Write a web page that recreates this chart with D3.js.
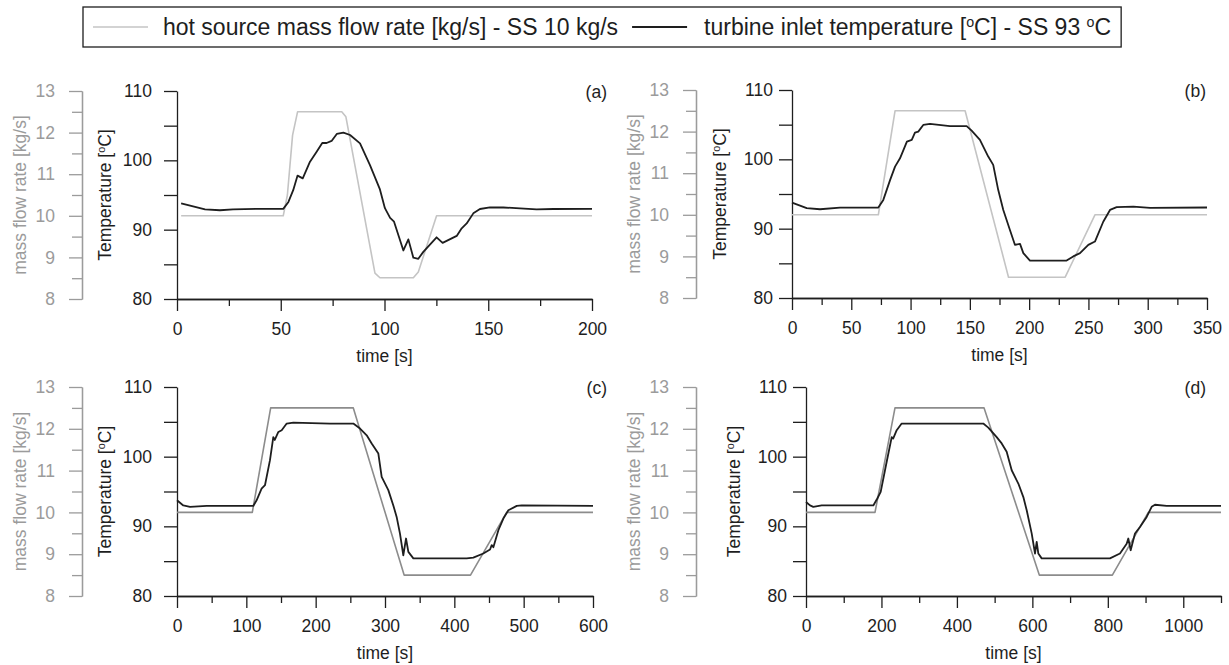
<!DOCTYPE html>
<html>
<head>
<meta charset="utf-8">
<script src="https://cdn.jsdelivr.net/npm/d3@7"></script>
<style>
  body { margin: 0; background: #fff; }
  svg text { font-family: "Liberation Sans", Arial, sans-serif; }
</style>
</head>
<body>
<svg id="chart" width="1229" height="665" font-family="Liberation Sans, Arial, sans-serif"></svg>
<script>
// ---- data ----
// (a)
const aTempT = [2, 13.5, 20.7, 27, 38.4, 51.2, 53.7, 56, 58.1, 60.6, 64.1, 67.3, 70, 72.1, 74.5, 77, 80.2, 83.4, 88.2, 93, 97.8, 100.2, 102.7, 104.6, 109.1, 111.5, 113.9, 116.3, 118.7, 125.1, 128, 134.8, 137.2, 139.6, 142.8, 146, 150.8, 157.3, 165.3, 173.3, 181.4, 200];
const aTempV = [93.8, 92.93, 92.8, 92.93, 93.0, 93.0, 94.0, 95.7, 97.8, 97.4, 99.8, 101.25, 102.5, 102.5, 102.8, 103.8, 104.0, 103.65, 102.45, 99.3, 95.8, 93.1, 91.7, 91.15, 87.0, 88.6, 85.96, 85.8, 86.8, 88.9, 88.1, 89.1, 90.2, 90.9, 92.35, 92.98, 93.2, 93.2, 93.08, 92.93, 92.98, 93.0];
const aFlowT = [2, 51.2, 53.2, 55.7, 58.1, 79.4, 81.4, 95.4, 97.8, 113.9, 116.3, 125.1, 200];
const aFlowV = [10, 10, 10.5, 11.94, 12.5, 12.5, 12.38, 8.62, 8.51, 8.51, 8.65, 10, 10];
// (b)
const bTempT = [0, 12.4, 23.6, 40.5, 72.8, 77, 82.7, 86.9, 91.1, 96.9, 101, 103.7, 106.5, 110.7, 116.4, 133.2, 147.3, 151.5, 158.5, 165.5, 169.7, 173.9, 178.2, 183.8, 188, 192.3, 195.1, 200.7, 231.6, 237.2, 242.9, 249.9, 255.5, 262.5, 268.2, 273.8, 287.9, 302, 350];
const bTempV = [93.76, 92.95, 92.8, 93.04, 93.04, 94.15, 97.0, 98.95, 100.15, 102.55, 102.8, 103.85, 104, 104.96, 105.1, 104.8, 104.8, 104.14, 102.8, 100.4, 99.2, 95.6, 92.7, 89.8, 87.67, 87.8, 86.47, 85.4, 85.4, 86.0, 86.47, 87.67, 88.14, 91.0, 92.7, 93.1, 93.18, 93.0, 93.05];
const bFlowT = [0, 72.8, 86.9, 146, 182.6, 230.4, 255.5, 350];
const bFlowV = [10, 10, 12.5, 12.5, 8.5, 8.5, 10, 10];
// (c)
const cTempT = [0, 9.1, 18.8, 42.8, 110, 114.8, 122, 126.9, 134.1, 138.9, 141, 146.2, 151, 158.2, 167.8, 220.7, 254.3, 264, 273.6, 280.8, 290.4, 295.2, 304.8, 312, 316.8, 321.6, 326.4, 330.3, 333.7, 340.9, 417.8, 427.4, 441.8, 451.5, 453.9, 456.3, 463.5, 470.7, 477.9, 490, 497.2, 600];
const cTempV = [93.74, 93.0, 92.8, 92.93, 92.93, 93.74, 95.4, 95.9, 99.5, 102.8, 102.4, 103.55, 103.8, 104.75, 104.9, 104.75, 104.75, 104.03, 103.07, 101.9, 100.44, 97.1, 95.2, 93.0, 91.35, 88.96, 85.85, 88.25, 86.33, 85.4, 85.4, 85.5, 86.1, 86.67, 87.3, 87.0, 89.44, 91.12, 92.3, 92.93, 93.0, 92.93];
const cFlowT = [0, 108.6, 135.1, 254.3, 327.6, 423.3, 475.5, 600];
const cFlowV = [10, 10, 12.5, 12.5, 8.5, 8.5, 10, 10];
// (d)
const dTempT = [0, 10.6, 19.4, 41.6, 178.4, 189, 198, 209.4, 215.5, 227.2, 231, 240.4, 253.6, 469.9, 483.2, 505.4, 518.7, 531.9, 545.2, 562.8, 576.1, 585, 598.3, 607, 611.5, 615.8, 624.7, 805.7, 832.2, 850, 854.3, 860.6, 872, 885.2, 903, 916.2, 925, 956, 1100];
const dTempV = [93.5, 93.0, 92.8, 93.0, 93.0, 94.0, 94.95, 98.05, 99.7, 102.8, 102.6, 103.8, 104.75, 104.75, 104.17, 102.8, 101.9, 100.7, 98.05, 96.14, 94.2, 92.3, 88.96, 86.1, 87.76, 86.1, 85.4, 85.4, 86.1, 87.5, 88.25, 86.57, 88.96, 89.9, 91.35, 92.8, 93.1, 92.93, 92.93];
const dFlowT = [0, 182.9, 235.9, 472, 618.4, 812, 907.4, 1100];
const dFlowV = [10, 10, 12.5, 12.5, 8.5, 8.5, 10, 10];

// ticks
const massMajor = [8, 9, 10, 11, 12, 13];
const massMinor = [8.5, 9.5, 10.5, 11.5, 12.5];
const tempTicks = [80, 85, 90, 95, 100, 105, 110];
const tempLabels = [80, 90, 100, 110];
const aXMajor = [0, 50, 100, 150, 200], aXMinor = [25, 75, 125, 175];
const bXMajor = [0, 50, 100, 150, 200, 250, 300, 350], bXMinor = [25, 75, 125, 175, 225, 275, 325];
const cXMajor = [0, 100, 200, 300, 400, 500, 600], cXMinor = [50, 150, 250, 350, 450, 550];
const dXMajor = [0, 200, 400, 600, 800, 1000], dXMinor = [100, 300, 500, 700, 900, 1100];

const legendFlow = "hot source mass flow rate [kg/s] - SS 10 kg/s";

const ink = "#1e1e1e";
const massGrey = "#9b9b9b";
const FONT = 17.5;
const fmt = d3.format("d");

// panel layout
const panels = [
  { tag: "(a)", tT: aTempT, tV: aTempV, fT: aFlowT, fV: aFlowV, xMax: 200, xMajor: aXMajor, xMinor: aXMinor,
    massX: 82, tempX: 177, xEnd: 592, yTop: 91, yBot: 299, pad: 12, tagX: 607, flowCol: "#c4c4c4" },
  { tag: "(b)", tT: bTempT, tV: bTempV, fT: bFlowT, fV: bFlowV, xMax: 350, xMajor: bXMajor, xMinor: bXMinor,
    massX: 696, tempX: 792, xEnd: 1207, yTop: 90, yBot: 298, pad: 6, tagX: 1206, flowCol: "#c4c4c4" },
  { tag: "(c)", tT: cTempT, tV: cTempV, fT: cFlowT, fV: cFlowV, xMax: 600, xMajor: cXMajor, xMinor: cXMinor,
    massX: 82, tempX: 177, xEnd: 593, yTop: 387, yBot: 596, pad: 12, tagX: 607, flowCol: "#8c8c8c" },
  { tag: "(d)", tT: dTempT, tV: dTempV, fT: dFlowT, fV: dFlowV, xMax: 1100, xMajor: dXMajor, xMinor: dXMinor,
    massX: 696, tempX: 806, xEnd: 1221, yTop: 387, yBot: 596, pad: 6, tagX: 1206, flowCol: "#8c8c8c" }
];

const svg = d3.select("#chart");

function styleAxis(g, col) {
  g.attr("font-family", null).attr("font-size", FONT).attr("color", col);
  g.selectAll("path, line").attr("stroke-width", 1.3);
  g.selectAll("text").attr("fill", col);
}

function supLabel(sel, before, after) {
  // text with a raised small "o" for degrees
  sel.append("tspan").text(before);
  sel.append("tspan").attr("font-size", FONT * 0.62).attr("dy", -6).text("o");
  sel.append("tspan").attr("dy", 6).text(after);
}

panels.forEach(p => {
  const x = d3.scaleLinear().domain([0, p.xMax]).range([p.tempX, p.xEnd]);
  const yT = d3.scaleLinear().domain([80, 110]).range([p.yBot, p.yTop]);
  const yM = d3.scaleLinear().domain([8, 13]).range([p.yBot, p.yTop]);
  const g = svg.append("g");

  // mass flow axis (grey, separate)
  g.append("g").attr("transform", `translate(${p.massX},0)`)
    .call(d3.axisLeft(yM).tickValues(massMinor).tickSize(10).tickSizeOuter(0).tickFormat(""))
    .call(s => styleAxis(s, massGrey));
  g.append("g").attr("transform", `translate(${p.massX},0)`)
    .call(d3.axisLeft(yM).tickValues(massMajor).tickSize(13).tickSizeOuter(0).tickPadding(14).tickFormat(fmt))
    .call(s => styleAxis(s, massGrey));

  // temperature axis
  g.append("g").attr("transform", `translate(${p.tempX},0)`)
    .call(d3.axisLeft(yT).tickValues(tempTicks).tickSize(13).tickSizeOuter(0).tickPadding(p.pad)
      .tickFormat(d => tempLabels.includes(d) ? fmt(d) : ""))
    .call(s => styleAxis(s, ink));

  // time axis
  g.append("g").attr("transform", `translate(0,${p.yBot})`)
    .call(d3.axisBottom(x).tickValues(p.xMinor).tickSize(7).tickSizeOuter(0).tickFormat(""))
    .call(s => styleAxis(s, ink));
  g.append("g").attr("transform", `translate(0,${p.yBot})`)
    .call(d3.axisBottom(x).tickValues(p.xMajor).tickSize(12).tickSizeOuter(0).tickPadding(12).tickFormat(fmt))
    .call(s => styleAxis(s, ink));

  // axis titles
  const midY = (p.yTop + p.yBot) / 2;
  g.append("text").attr("transform", `translate(${p.massX - 62},${midY}) rotate(-90)`)
    .attr("text-anchor", "middle").attr("dy", "0.32em").attr("font-size", FONT).attr("fill", massGrey)
    .text("mass flow rate [kg/s]");
  g.append("text").attr("transform", `translate(${p.tempX - 72},${midY}) rotate(-90)`)
    .attr("text-anchor", "middle").attr("dy", "0.32em").attr("font-size", FONT).attr("fill", ink)
    .call(s => supLabel(s, "Temperature [", "C]"));
  g.append("text").attr("x", (p.tempX + p.xEnd) / 2).attr("y", p.yBot + 63)
    .attr("text-anchor", "middle").attr("font-size", FONT).attr("fill", ink).text("time [s]");
  g.append("text").attr("x", p.tagX).attr("y", p.yTop + 7)
    .attr("text-anchor", "end").attr("font-size", FONT).attr("fill", ink).text(p.tag);

  // series
  const flowLine = d3.line().x(d => x(d[0])).y(d => yM(d[1]));
  const tempLine = d3.line().x(d => x(d[0])).y(d => yT(d[1]));
  g.append("path").datum(d3.zip(p.fT, p.fV)).attr("d", flowLine)
    .attr("fill", "none").attr("stroke", p.flowCol).attr("stroke-width", 1.6).attr("stroke-linejoin", "round");
  g.append("path").datum(d3.zip(p.tT, p.tV)).attr("d", tempLine)
    .attr("fill", "none").attr("stroke", ink).attr("stroke-width", 1.8).attr("stroke-linejoin", "round");
});

// legend
const lg = svg.append("g");
const LF = 23;
const box = lg.append("rect").attr("x", 83).attr("y", 7).attr("height", 40)
  .attr("fill", "#fff").attr("stroke", ink).attr("stroke-width", 1.3);
lg.append("line").attr("x1", 93).attr("x2", 148).attr("y1", 27).attr("y2", 27)
  .attr("stroke", "#c4c4c4").attr("stroke-width", 1.6);
const t1 = lg.append("text").attr("x", 163).attr("y", 35).attr("font-size", LF).attr("fill", ink).text(legendFlow);
const w1 = t1.node().getComputedTextLength();
const s2 = 163 + w1 + 14;
lg.append("line").attr("x1", s2).attr("x2", s2 + 55).attr("y1", 27).attr("y2", 27)
  .attr("stroke", ink).attr("stroke-width", 1.8);
const t2 = lg.append("text").attr("x", s2 + 72).attr("y", 35).attr("font-size", LF).attr("fill", ink);
t2.append("tspan").text("turbine inlet temperature [");
t2.append("tspan").attr("font-size", LF * 0.62).attr("dy", -8).text("o");
t2.append("tspan").attr("dy", 8).text("C] - SS 93 ");
t2.append("tspan").attr("font-size", LF * 0.62).attr("dy", -8).text("o");
t2.append("tspan").attr("dy", 8).text("C");
const end2 = s2 + 72 + t2.node().getComputedTextLength();
box.attr("width", end2 + 10 - 83);
</script>
</body>
</html>
